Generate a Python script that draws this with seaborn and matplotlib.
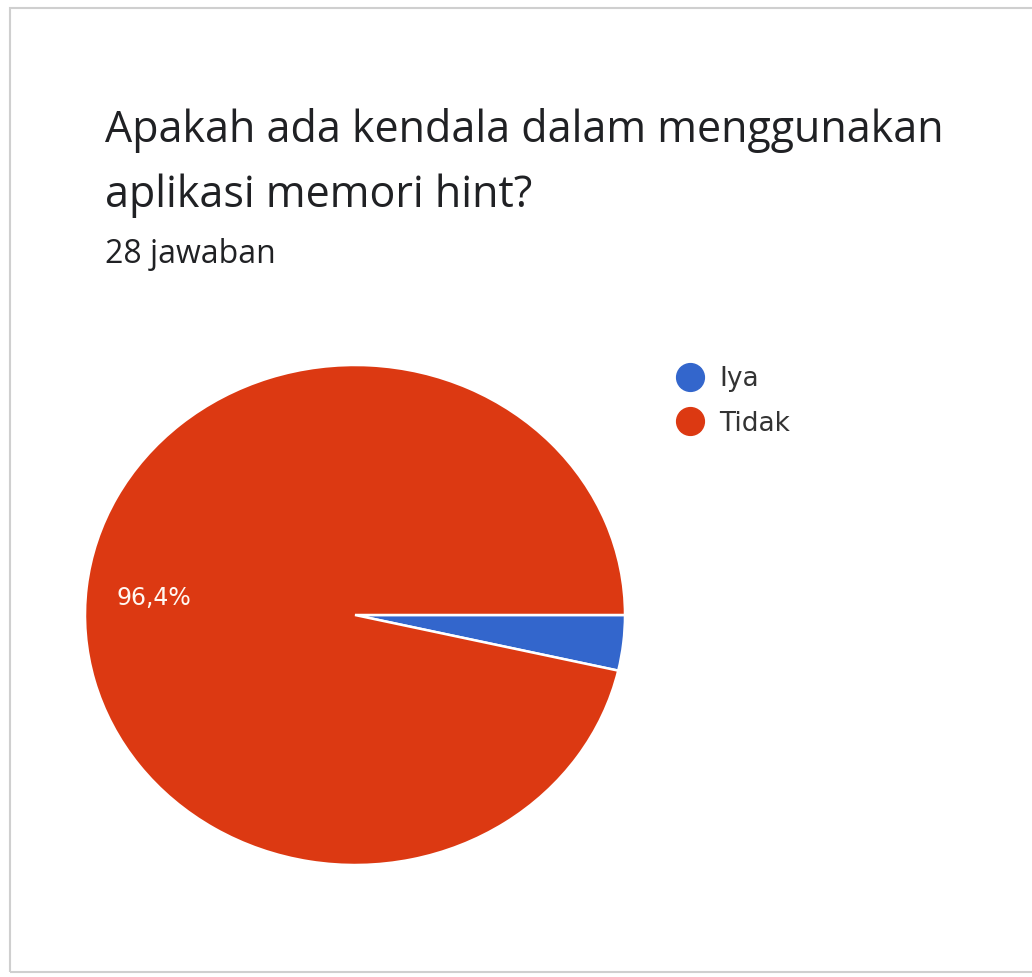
import matplotlib
matplotlib.use("Agg")
import matplotlib.pyplot as plt
import seaborn as sns
from matplotlib.patches import Rectangle

categories = ["Iya", "Tidak"]
counts = [1, 27]
pct_labels = ["", "96,4%"]
title_lines = ["Apakah ada kendala dalam menggunakan", "aplikasi memori hint?"]
subtitle = "28 jawaban"

sns.set_theme(style="white")
plt.rcParams["font.family"] = ["Open Sans", "DejaVu Sans"]
colors = sns.color_palette(["#3366CC", "#DC3912"])

W, H = 1032, 977
fig = plt.figure(figsize=(W / 100, H / 100), dpi=100)
fig.patch.set_facecolor("white")

# card border
fig.patches.append(Rectangle((10 / W, 1 - 972 / H), 1.1, (972 - 8) / H, transform=fig.transFigure,
                             fill=False, edgecolor="#cfcfcf", linewidth=1.5, zorder=0))

ax = fig.add_axes([85 / W, 1 - 865 / H, 540 / W, 500 / H])
wedges, _ = ax.pie(counts, colors=colors, startangle=0, counterclock=False,
                   wedgeprops=dict(edgecolor="white", linewidth=1.8))
ax.set_aspect("auto")
ax.set_xlim(-1.0, 1.0)
ax.set_ylim(-1.0, 1.0)
ax.axis("off")

# percentage label
ax.text(-0.885, 0.07, pct_labels[1], color="#fff8f2", fontsize=17, ha="left", va="center",
        family=["DejaVu Sans"])

fig.text(105 / W, 1 - 142 / H, title_lines[0], fontsize=31, color="#202124", ha="left", va="baseline")
fig.text(105 / W, 1 - 207 / H, title_lines[1], fontsize=31, color="#202124", ha="left", va="baseline")
fig.text(105 / W, 1 - 263 / H, subtitle, fontsize=23, color="#202124", ha="left", va="baseline")

handles = [plt.Line2D([], [], marker="o", linestyle="", markersize=20, color=c) for c in colors]
leg = fig.legend(handles, categories, loc="upper left", bbox_to_anchor=(661 / W, 1 - 353 / H),
                 frameon=False, borderpad=0, handletextpad=0.5, labelspacing=0.7,
                 handlelength=1.2, prop=dict(family="DejaVu Sans", size=19))
for t in leg.get_texts():
    t.set_color("#333333")

fig.savefig("out.png", dpi=100)
